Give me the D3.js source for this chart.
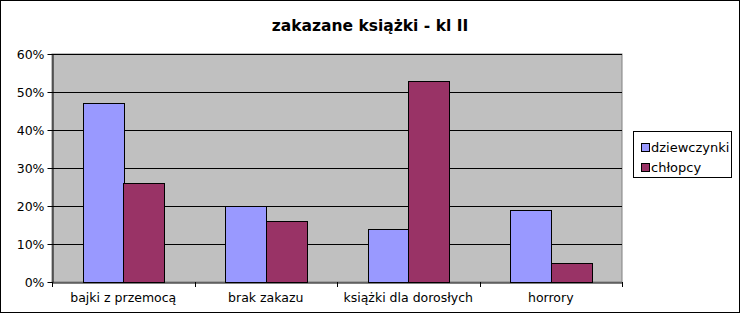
<html>
<head>
<meta charset="utf-8">
<script src='https://d3js.org/d3.v7.min.js'></script>
<style>
body {margin: 0; background: white;}
text {font-family: 'DejaVu Sans', sans-serif;}
</style>
</head>
<body>
<svg width=741 height=314></svg>
<script>

var categories = ["bajki z przemocą", "brak zakazu", "książki dla dorosłych", "horrory"];
var seriesNames = ["dziewczynki", "chłopcy"];
var dziewczynki = [0.47, 0.20, 0.14, 0.19];
var chlopcy = [0.26, 0.16, 0.53, 0.05];
var yTicks = [0, 0.1, 0.2, 0.3, 0.4, 0.5, 0.6];
var colors = ["#9999FF", "#993366"];

var svg = d3.select("svg");

// outer frame
svg.append("rect")
    .attr("x", 0.5).attr("y", 0.5)
    .attr("width", 739).attr("height", 312)
    .attr("fill", "white").attr("stroke", "black");

// title
svg.append("text")
    .text("zakazane książki - kl II")
    .attr("x", 370).attr("y", 31)
    .attr("text-anchor", "middle")
    .style("font-size", "15.5px").style("font-weight", "bold");

var plotLeft = 52, plotTop = 54, width = 570, height = 228;

var x = d3.scaleBand().domain(categories).range([0, width]);
var y = d3.scaleLinear().domain([0, 0.6]).range([height, 0]);

var g = svg.append("g").attr("transform", "translate(" + plotLeft + "," + plotTop + ")");

// plot area
g.append("rect")
    .attr("width", width).attr("height", height)
    .attr("fill", "#C0C0C0").attr("stroke", "#808080");

// grid lines
g.selectAll(".grid").data(yTicks.slice(1)).enter().append("line")
    .attr("x1", 0).attr("x2", width)
    .attr("y1", function(d) { return Math.round(y(d)) + 0.5; })
    .attr("y2", function(d) { return Math.round(y(d)) + 0.5; })
    .attr("stroke", "black");

// bars
var data = [dziewczynki, chlopcy];
var barW = x.bandwidth() * 0.285;
var gap = (x.bandwidth() - 2 * barW) / 2;
data.forEach(function(series, si) {
    g.selectAll(".bar" + si).data(series).enter().append("rect")
        .attr("x", function(d, i) { return Math.round(x(categories[i]) + gap + si * barW) + 0.5; })
        .attr("y", function(d) { return Math.round(y(d)) + 0.5; })
        .attr("width", Math.round(barW))
        .attr("height", function(d) { return Math.round(height - y(d)); })
        .attr("fill", colors[si]).attr("stroke", "black");
});

// y axis
g.append("g")
    .attr("transform", "translate(0.5,0)")
    .call(d3.axisLeft(y).tickValues(yTicks).tickFormat(d3.format(".0%")).tickSize(5).tickSizeOuter(0))
    .call(function(a) {
        a.selectAll("text").style("font-size", "12.5px").attr("fill", "black");
        a.select(".domain").attr("stroke", "black");
    });

// x axis
g.append("g")
    .attr("transform", "translate(0," + (height + 0.5) + ")")
    .call(d3.axisBottom(x).tickSize(0).tickSizeOuter(0))
    .call(function(a) {
        a.selectAll("text").style("font-size", "12.5px").attr("fill", "black").attr("dy", "1.35em");
        a.select(".domain").attr("stroke", "black");
    });

// category separator ticks
g.selectAll(".ctick").data(d3.range(categories.length + 1)).enter().append("line")
    .attr("x1", function(i) { return Math.round(i * x.bandwidth()) + 0.5; })
    .attr("x2", function(i) { return Math.round(i * x.bandwidth()) + 0.5; })
    .attr("y1", height).attr("y2", height + 5)
    .attr("stroke", "black");

// legend
var lg = svg.append("g").attr("transform", "translate(633,131)");
lg.append("rect")
    .attr("x", 0.5).attr("y", 0.5).attr("width", 98).attr("height", 46)
    .attr("fill", "white").attr("stroke", "black");
seriesNames.forEach(function(name, i) {
    lg.append("rect")
        .attr("x", 8.5).attr("y", 12.5 + i * 20)
        .attr("width", 8).attr("height", 8)
        .attr("fill", colors[i]).attr("stroke", "black");
    lg.append("text")
        .text(name)
        .attr("x", 18).attr("y", 21 + i * 20)
        .style("font-size", "13px");
});

</script>
</body>
</html>
